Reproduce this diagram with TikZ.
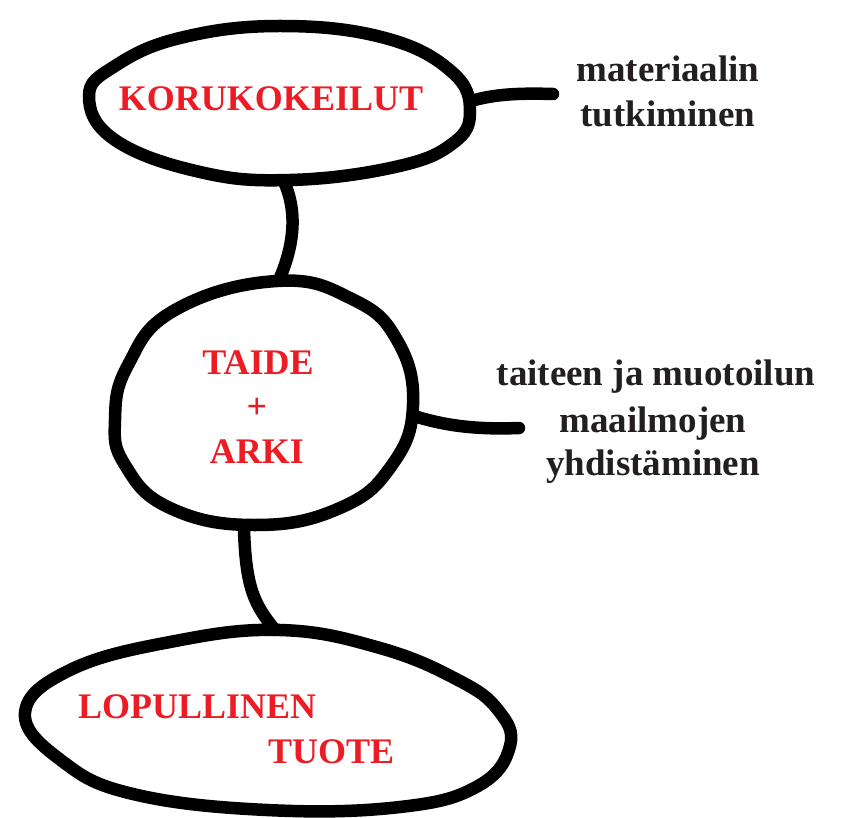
\documentclass[tikz,border=0pt]{standalone}
\usepackage{fontspec}
\setmainfont{Liberation Serif}
\definecolor{lblred}{HTML}{ED1C24}
\definecolor{lblblack}{HTML}{231F20}
\tikzset{
  blob/.style={line width=12.5pt, draw=black},
  link/.style={line width=12.5pt, draw=black, line cap=round},
  redtxt/.style={text=lblred, font=\bfseries\fontsize{36}{40}\selectfont, inner sep=0pt, anchor=base},
  blktxt/.style={text=lblblack, font=\bfseries\fontsize{37}{42}\selectfont, inner sep=0pt, anchor=base},
}
\begin{document}
\begin{tikzpicture}[x=1pt,y=-1pt]
\useasboundingbox (0,0) rectangle (843,818);
% shapes
\draw[blob] plot[smooth cycle, tension=0.7] coordinates {
  (89,96) (115,140) (200,172) (290,180) (395,167) (452,144) (470,112)
  (452,72) (385,38) (280,26) (180,38) (115,66)};
\draw[blob] plot[smooth cycle, tension=0.75] coordinates {
  (277,281) (352,299) (397,340) (413,405) (392,465) (340,508)
  (255,525) (170,508) (125,465) (115,420) (128,365) (175,310)};
\draw[blob] plot[smooth cycle, tension=0.7] coordinates {
  (25,713) (62,761) (133,794) (267,810) (400,807) (478,786) (510,746)
  (498,710) (458,680) (380,648) (280,630) (170,642) (70,670)};
% connector ends
\coordinate (kor-s) at (285,184);
\coordinate (tai-n) at (279,280);
\coordinate (kor-e) at (471,101);
\coordinate (mat-w) at (553,94);
\coordinate (tai-e) at (414,416);
\coordinate (yhd-w) at (519,428);
\coordinate (tai-s) at (244,530);
\coordinate (lop-n) at (275,630);
% connectors
\draw[link] (kor-s) .. controls (298,215) and (293,248) .. (tai-n);
\draw[link] (kor-e) .. controls (495,94) and (520,93) .. (mat-w);
\draw[link] (tai-e) .. controls (440,424) and (470,430) .. (yhd-w);
\draw[link] (tai-s) .. controls (246,590) and (255,605) .. (lop-n);
% texts
\node[redtxt] (kor) at (271,111) {KORUKOKEILUT};
\node[redtxt] (tai1) at (258,374) {TAIDE};
\node[redtxt] (tai2) at (257,418) {+};
\node[redtxt] (tai3) at (257,463) {ARKI};
\node[redtxt, anchor=base west] (lop1) at (78,718) {LOPULLINEN};
\node[redtxt, anchor=base west] (lop2) at (268,763) {TUOTE};
\node[blktxt] (mat1) at (668,82) {materiaalin};
\node[blktxt] (mat2) at (668,127) {tutkiminen};
\node[blktxt] (yhd1) at (656,385) {taiteen ja muotoilun};
\node[blktxt] (yhd2) at (653,432) {maailmojen};
\node[blktxt] (yhd3) at (653,475) {yhdistäminen};
\end{tikzpicture}
\end{document}
